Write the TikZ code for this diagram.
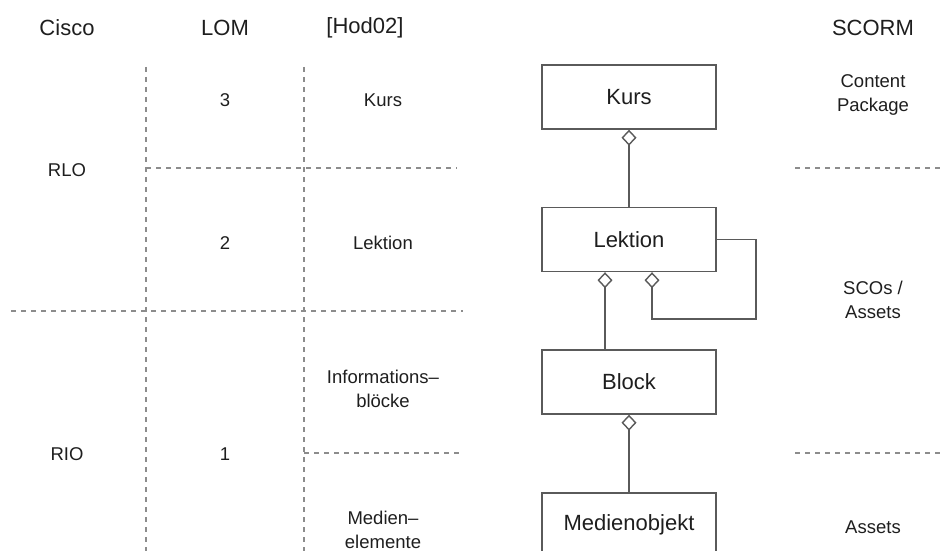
\documentclass[tikz,border=0pt]{standalone}
\usepackage{fontspec}
\setmainfont{Liberation Sans}
\usetikzlibrary{arrows.meta}
\definecolor{boxline}{HTML}{5A5A5A}
\definecolor{dashline}{HTML}{8C8C8C}
\definecolor{txt}{HTML}{1E1E1E}
\tikzset{
  header/.style={text=txt,font=\fontsize{22}{26}\selectfont,inner sep=0pt},
  lbl/.style={text=txt,font=\fontsize{18.5}{23.5}\selectfont,align=center,inner sep=0pt},
  umlbox/.style={draw=boxline,line width=1.4pt,minimum width=174pt,minimum height=64pt,inner sep=0pt,text=txt,font=\fontsize{22}{26}\selectfont},
  agg/.style={draw=boxline,line width=1.4pt,-{Diamond[open,length=16pt,width=15pt,line width=1.4pt]}},
  loopline/.style={draw=boxline,line width=1.4pt},
  guide/.style={draw=dashline,line width=1.2pt,dash pattern=on 5pt off 5pt}
}
\begin{document}
\begin{tikzpicture}[x=1pt,y=-1pt]
\useasboundingbox (0,0) rectangle (943,551);
\clip (0,0) rectangle (943,551);
% headers
\node[header] (hcisco) at (67,28) {Cisco};
\node[header] (hlom) at (225,28) {LOM};
\node[header] (hhod) at (365,28) {[Hod02]};
\node[header] (hscorm) at (873,28) {SCORM};
% guide lines
\draw[guide] (146,67) -- (146,551);
\draw[guide] (304,67) -- (304,551);
\draw[guide] (146,168) -- (457,168);
\draw[guide] (11,311) -- (463,311);
\draw[guide] (304,453) -- (463,453);
\draw[guide] (795,168) -- (943,168);
\draw[guide] (795,453) -- (943,453);
% Cisco column
\node[lbl] (rlo) at (67,170) {RLO};
\node[lbl] (rio) at (67,454) {RIO};
% LOM column
\node[lbl] (l3) at (225,100) {3};
\node[lbl] (l2) at (225,243) {2};
\node[lbl] (l1) at (225,454) {1};
% Hod02 column
\node[lbl] (hkurs) at (383,100) {Kurs};
\node[lbl] (hlek) at (383,243) {Lektion};
\node[lbl] (hinf) at (383,389) {Informations–\\blöcke};
\node[lbl] (hmed) at (383,530) {Medien–\\elemente};
% SCORM column
\node[lbl] (scp) at (873,95) {Content\\Package};
\node[lbl] (ssco) at (873,300) {SCOs /\\Assets};
\node[lbl] (sass) at (873,527) {Assets};
% UML boxes
\node[umlbox] (kurs) at (629,97) {Kurs};
\node[umlbox] (lek) at (629,239.5) {Lektion};
\node[umlbox] (blk) at (629,382) {Block};
\node[umlbox] (med) at (629,525) {Medienobjekt};
% connectors
\draw[agg] (lek.north) -- (kurs.south);
\draw[agg] ([xshift=-24pt]blk.north) -- ([xshift=-24pt]lek.south);
\draw[agg] (med.north) -- (blk.south);
\coordinate (loopc) at (756,319);
\draw[agg] (lek.east) -| (loopc) -| ([xshift=23pt]lek.south);
\end{tikzpicture}
\end{document}
